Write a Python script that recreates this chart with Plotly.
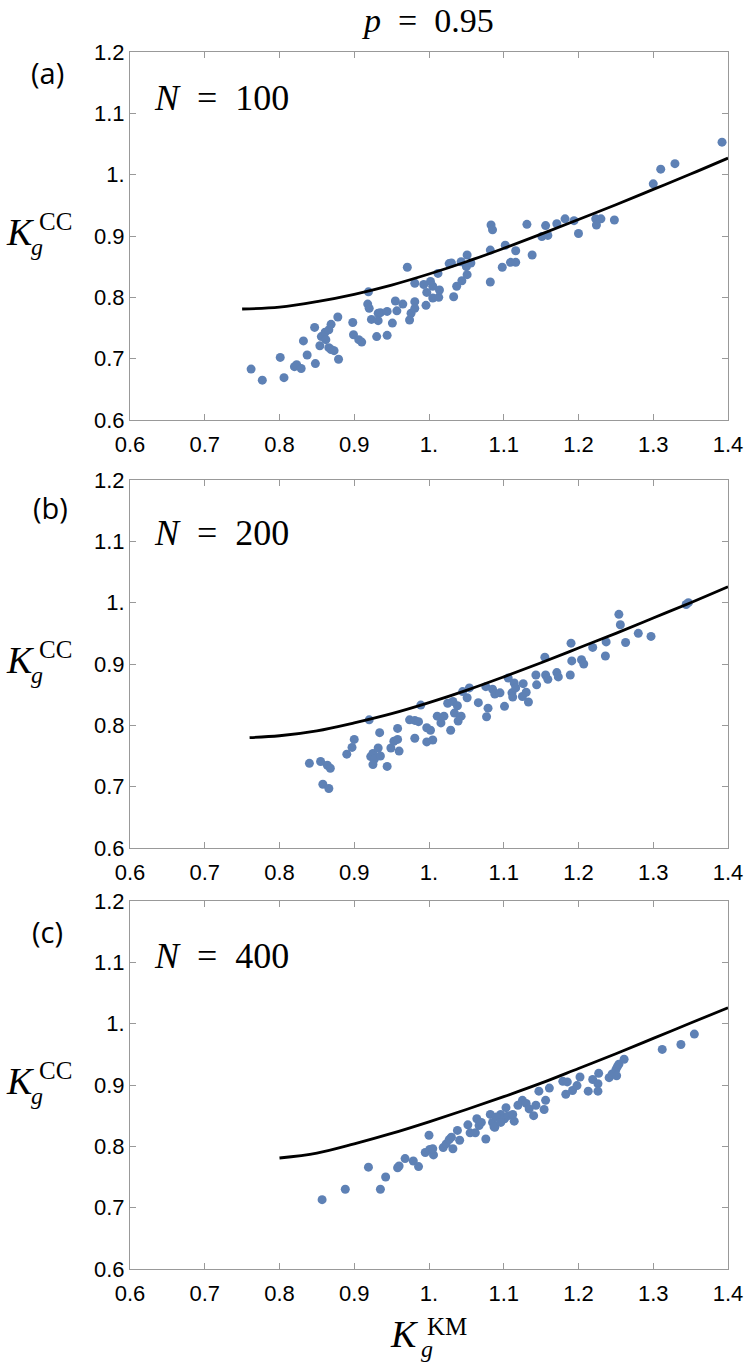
import plotly.graph_objects as go

# panel (a) N = 100
a_x = [0.762, 0.777, 0.801, 0.806, 0.820, 0.823, 0.829, 0.832, 0.837, 0.847, 0.848, 0.854, 0.856, 0.861,
       0.866, 0.869, 0.862, 0.866, 0.869, 0.873, 0.879, 0.878, 0.898, 0.899, 0.906, 0.910, 0.919, 0.918,
       0.920, 0.923, 0.930, 0.932, 0.932, 0.935, 0.944, 0.944, 0.951, 0.955, 0.957, 0.965, 0.971, 0.974,
       0.976, 0.981, 0.981, 0.981, 0.993, 0.996, 1.002, 1.005, 0.997, 1.005, 1.013, 1.014, 1.012, 1.027,
       1.030, 1.033, 1.037, 1.044, 1.043, 1.051, 1.050, 1.051, 1.056, 1.082, 1.082, 1.083, 1.085, 1.098,
       1.102, 1.109, 1.116, 1.116, 1.131, 1.138, 1.151, 1.159, 1.156, 1.171, 1.182, 1.194, 1.200, 1.223,
       1.224, 1.230, 1.248, 1.300, 1.310, 1.329, 1.392]
a_y = [0.683, 0.665, 0.702, 0.669, 0.687, 0.690, 0.684, 0.729, 0.706, 0.751, 0.692, 0.721, 0.736, 0.743,
       0.747, 0.756, 0.731, 0.718, 0.715, 0.713, 0.699, 0.768, 0.759, 0.739, 0.731, 0.727, 0.809, 0.789,
       0.782, 0.764, 0.736, 0.774, 0.762, 0.775, 0.777, 0.738, 0.758, 0.794, 0.778, 0.789, 0.849, 0.763,
       0.774, 0.823, 0.793, 0.782, 0.821, 0.787, 0.826, 0.818, 0.808, 0.799, 0.800, 0.812, 0.839, 0.855,
       0.856, 0.801, 0.818, 0.827, 0.858, 0.869, 0.850, 0.837, 0.856, 0.825, 0.877, 0.918, 0.910, 0.849,
       0.885, 0.857, 0.857, 0.876, 0.919, 0.869, 0.899, 0.901, 0.917, 0.920, 0.928, 0.925, 0.904, 0.928,
       0.918, 0.928, 0.926, 0.985, 1.009, 1.018, 1.053]
a_curve_x = [0.75, 0.80, 0.85, 0.90, 0.95, 1.00, 1.05, 1.10, 1.15, 1.20, 1.25, 1.30, 1.35, 1.40]
a_curve_y = [0.781, 0.784, 0.793, 0.805, 0.820, 0.838, 0.858, 0.880, 0.903, 0.927, 0.951, 0.976, 1.001, 1.027]

# panel (b) N = 200
b_x = [0.840, 0.855, 0.864, 0.868, 0.858, 0.866, 0.890, 0.897, 0.900, 0.920, 0.922, 0.925, 0.927, 0.925,
       0.932, 0.935, 0.934, 0.944, 0.949, 0.953, 0.958, 0.960, 0.958, 0.974, 0.981, 0.986, 0.989, 0.981,
       0.997, 1.002, 0.997, 1.005, 1.011, 1.016, 1.020, 1.025, 1.029, 1.032, 1.034, 1.038, 1.043, 1.039,
       1.051, 1.045, 1.054, 1.066, 1.077, 1.079, 1.076, 1.085, 1.088, 1.095, 1.101, 1.106, 1.111, 1.112,
       1.114, 1.116, 1.126, 1.125, 1.130, 1.133, 1.143, 1.144, 1.155, 1.156, 1.159, 1.171, 1.173, 1.190,
       1.189, 1.191, 1.204, 1.207, 1.219, 1.237, 1.236, 1.254, 1.256, 1.263, 1.280, 1.297, 1.344, 1.347]
b_y = [0.738, 0.741, 0.735, 0.730, 0.704, 0.697, 0.753, 0.764, 0.777, 0.809, 0.749, 0.754, 0.745, 0.736,
       0.763, 0.750, 0.788, 0.733, 0.763, 0.774, 0.777, 0.758, 0.795, 0.809, 0.808, 0.806, 0.833, 0.779,
       0.796, 0.792, 0.773, 0.776, 0.815, 0.804, 0.815, 0.836, 0.792, 0.839, 0.820, 0.832, 0.815, 0.807,
       0.845, 0.855, 0.861, 0.837, 0.814, 0.828, 0.863, 0.859, 0.851, 0.853, 0.831, 0.877, 0.853, 0.846,
       0.869, 0.861, 0.868, 0.847, 0.854, 0.838, 0.882, 0.866, 0.911, 0.882, 0.875, 0.886, 0.879, 0.934,
       0.882, 0.905, 0.907, 0.900, 0.927, 0.936, 0.913, 0.981, 0.964, 0.935, 0.950, 0.945, 0.997, 1.000]
b_curve_x = [0.76, 0.80, 0.85, 0.90, 0.95, 1.00, 1.05, 1.10, 1.15, 1.20, 1.25, 1.30, 1.35, 1.40]
b_curve_y = [0.780, 0.783, 0.791, 0.804, 0.819, 0.837, 0.857, 0.879, 0.902, 0.926, 0.950, 0.975, 1.000, 1.026]

# panel (c) N = 400
c_x = [0.857, 0.888, 0.919, 0.935, 0.942, 0.958, 0.960, 0.968, 0.979, 0.986, 0.995, 1.001, 1.006, 1.005,
       1.000, 1.019, 1.023, 1.027, 1.030, 1.032, 1.038, 1.041, 1.052, 1.055, 1.062, 1.064, 1.067, 1.070,
       1.076, 1.082, 1.085, 1.088, 1.096, 1.101, 1.103, 1.106, 1.087, 1.090, 1.096, 1.114, 1.112, 1.119,
       1.125, 1.130, 1.134, 1.140, 1.143, 1.147, 1.154, 1.156, 1.161, 1.179, 1.183, 1.185, 1.192, 1.198,
       1.202, 1.213, 1.219, 1.226, 1.226, 1.227, 1.241, 1.245, 1.250, 1.252, 1.254, 1.251, 1.261, 1.312,
       1.337, 1.355]
c_y = [0.713, 0.730, 0.766, 0.730, 0.750, 0.765, 0.768, 0.780, 0.776, 0.767, 0.790, 0.795, 0.786, 0.796,
       0.818, 0.798, 0.804, 0.811, 0.815, 0.796, 0.826, 0.810, 0.835, 0.822, 0.822, 0.845, 0.834, 0.839,
       0.812, 0.852, 0.839, 0.831, 0.852, 0.845, 0.863, 0.850, 0.832, 0.848, 0.839, 0.841, 0.852, 0.867,
       0.875, 0.870, 0.861, 0.850, 0.867, 0.890, 0.860, 0.875, 0.895, 0.906, 0.885, 0.905, 0.891, 0.899,
       0.913, 0.890, 0.909, 0.902, 0.890, 0.919, 0.912, 0.918, 0.925, 0.930, 0.934, 0.915, 0.942, 0.958,
       0.966, 0.983]
c_curve_x = [0.80, 0.85, 0.90, 0.95, 1.00, 1.05, 1.10, 1.15, 1.20, 1.25, 1.30, 1.35, 1.40]
c_curve_y = [0.781, 0.789, 0.804, 0.821, 0.840, 0.860, 0.881, 0.903, 0.927, 0.951, 0.976, 1.001, 1.026]

x_ticks = [0.6, 0.7, 0.8, 0.9, 1.0, 1.1, 1.2, 1.3, 1.4]
x_ticktext = ["0.6", "0.7", "0.8", "0.9", "1.", "1.1", "1.2", "1.3", "1.4"]
y_ticks = [0.6, 0.7, 0.8, 0.9, 1.0, 1.1, 1.2]
y_ticktext = ["0.6", "0.7", "0.8", "0.9", "1.", "1.1", "1.2"]

panel_tags = ["(a)", "(b)", "(c)"]
panel_n = ["100", "200", "400"]

W, H = 748, 1366
BLUE = "#5E81B5"
AXIS_GREY = "#999999"
SERIF = "Liberation Serif"


def px(v):
    return v / W


def py(v):
    return 1 - v / H


# pixel boxes of the three frames (top, bottom)
frames = [(52, 420), (480, 848), (901, 1269)]
x_dom = [px(130), px(728)]

fig = go.Figure()
panels = [(a_x, a_y, a_curve_x, a_curve_y), (b_x, b_y, b_curve_x, b_curve_y), (c_x, c_y, c_curve_x, c_curve_y)]
for i, (sx, sy, cx, cy) in enumerate(panels):
    xa = "x" if i == 0 else f"x{i + 1}"
    ya = "y" if i == 0 else f"y{i + 1}"
    fig.add_trace(go.Scatter(x=sx, y=sy, mode="markers", xaxis=xa, yaxis=ya,
                             marker=dict(color=BLUE, size=9, line=dict(width=0)), showlegend=False))
    fig.add_trace(go.Scatter(x=cx, y=cy, mode="lines", xaxis=xa, yaxis=ya,
                             line=dict(color="black", width=2.8, shape="spline"), showlegend=False))

axis_common = dict(showline=True, linecolor=AXIS_GREY, linewidth=1, mirror="ticks", ticks="inside",
                   ticklen=6, tickcolor=AXIS_GREY, showgrid=False, zeroline=False, automargin=False,
                   tickfont=dict(family="Liberation Sans", size=22, color="black"))

layout_axes = {}
for i, (top, bottom) in enumerate(frames):
    sfx = "" if i == 0 else str(i + 1)
    layout_axes[f"xaxis{sfx}"] = dict(axis_common, domain=x_dom, range=[0.6, 1.4], tickvals=x_ticks,
                                      ticktext=x_ticktext, anchor=f"y{sfx}", ticklabelstandoff=5)
    layout_axes[f"yaxis{sfx}"] = dict(axis_common, domain=[py(bottom), py(top)], range=[0.6, 1.2],
                                      tickvals=y_ticks, ticktext=y_ticktext, anchor=f"x{sfx}")

fig.update_layout(width=W, height=H, margin=dict(l=0, r=0, t=0, b=0, autoexpand=False),
                  paper_bgcolor="white", plot_bgcolor="white", **layout_axes)


def note(text, x, y, size, family=SERIF, xanchor="center"):
    fig.add_annotation(text=text, x=px(x), y=py(y), xref="paper", yref="paper", showarrow=False,
                       xanchor=xanchor, yanchor="middle", font=dict(family=family, size=size, color="black"))


note("<i>p</i>  =  0.95", 428, 20, 34)

tag_pos = [(47, 72), (50, 508), (47, 931)]
n_pos = [98, 533, 956]
for i, (top, bottom) in enumerate(frames):
    off = top - 52
    note(panel_tags[i], tag_pos[i][0], tag_pos[i][1], 29, family="Open Sans")
    note(f"<i>N</i>  =  {panel_n[i]}", 152, n_pos[i], 36, xanchor="left")
    # y title K_g^CC
    note("<i>K</i>", 20, 232 + off, 38)
    note("CC", 55, 221 + off, 25)
    note("<i>g</i>", 37, 247 + off, 24)

# x title K_g^KM
note("<i>K</i>", 404, 1334, 38)
note("KM", 447, 1326, 25)
note("<i>g</i>", 427, 1349, 24)

# drop the default page margin so the figure sits at the top-left corner
fig.write_html("out.html", config={"displayModeBar": False},
               post_script="document.body.style.margin = '0';")
